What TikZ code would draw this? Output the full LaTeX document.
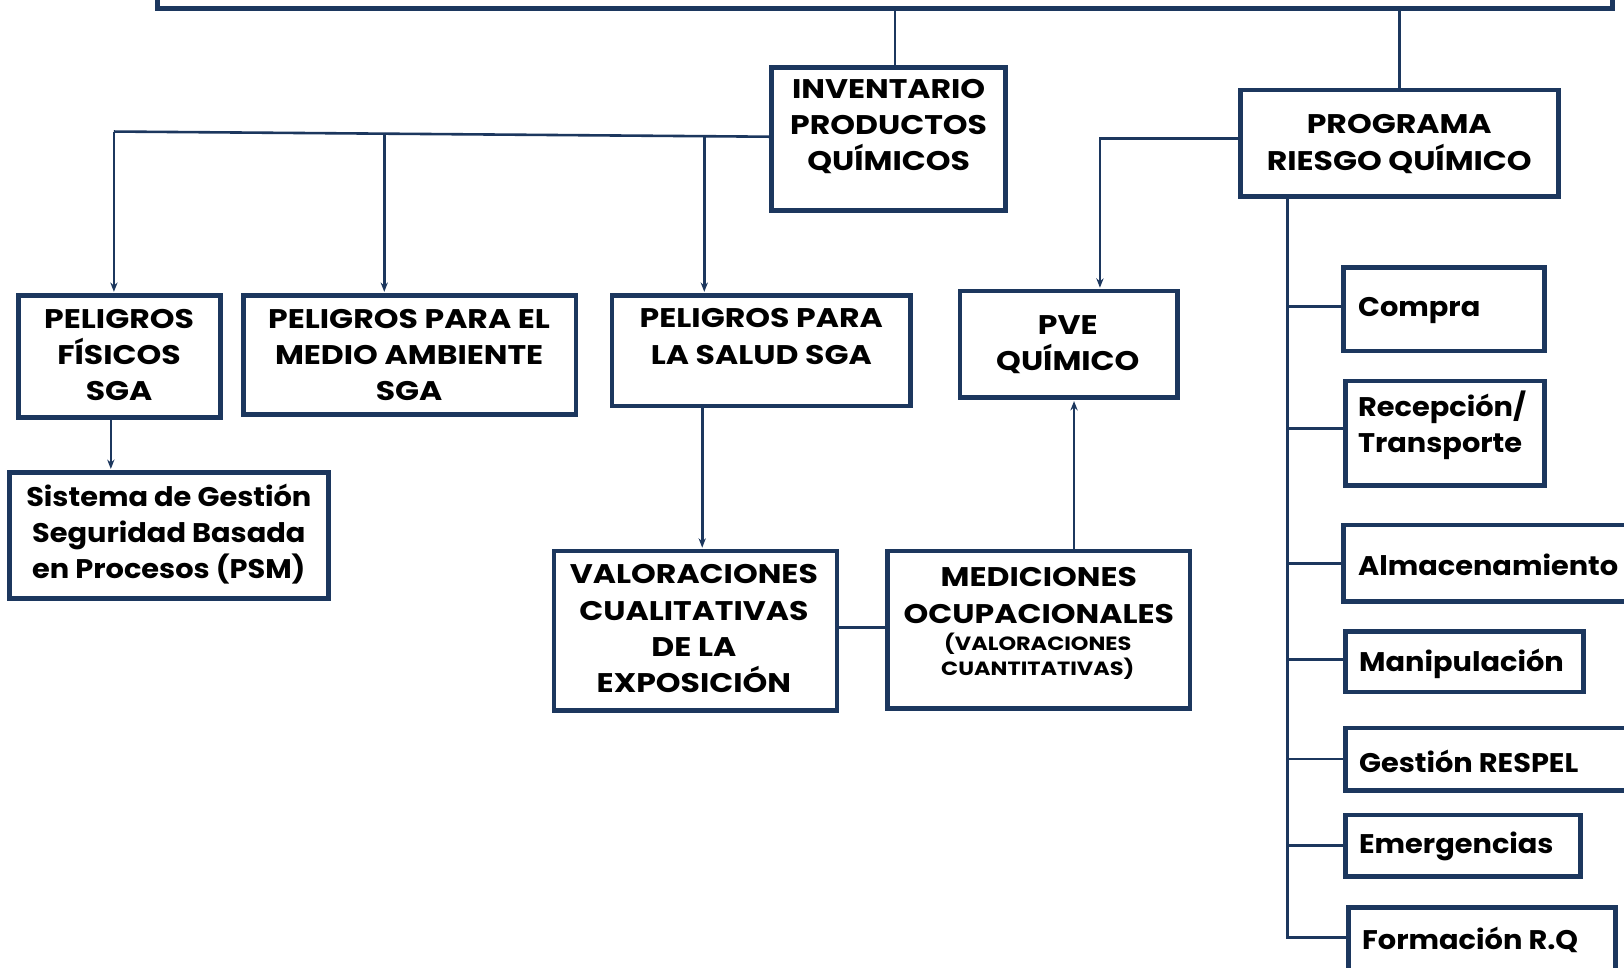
\documentclass[tikz,border=0pt]{standalone}
\usepackage{fontspec}
\setmainfont{Poppins}
\newfontfamily\capfont{Poppins}[FakeStretch=1.17]
\newfontfamily\lowfont{Poppins}[FakeStretch=1.07]
\usetikzlibrary{arrows.meta}
\definecolor{navy}{HTML}{1C375E}
\begin{document}
\begin{tikzpicture}[x=1pt,y=-1pt,
 box/.style={draw=navy, line width=4.5pt, fill=white, inner sep=0pt},
 txt/.style={align=center, font=\capfont\fontsize{26}{35}\selectfont\bfseries, text=black, inner sep=0pt, yshift=-2pt},
 mtxt/.style={align=center, font=\lowfont\fontsize{26}{35}\selectfont\bfseries, text=black, inner sep=0pt, yshift=-1.5pt},
 stxt/.style={align=center, font=\capfont\fontsize{18.5}{24}\selectfont\bfseries, text=black, inner sep=0pt, yshift=-1pt},
 ltxt/.style={anchor=west, align=left, font=\lowfont\fontsize{26}{35}\selectfont\bfseries, text=black, inner sep=0pt, yshift=-3pt},
 conn/.style={draw=navy, line width=2.5pt},
 arr/.style={conn, -{Stealth[length=9pt,width=7pt]}, shorten >=1pt}]
\fill[white] (0,0) rectangle (1568,934);
\useasboundingbox (0,0) rectangle (1568,934);
\clip (0,0) rectangle (1568,934);
% boxes
\node[box, minimum width=1405pt, minimum height=48pt] (top) at (854.5,-16) {};
\node[box, minimum width=226pt, minimum height=138pt] (inv) at (858,134) {};
\node[box, minimum width=307pt, minimum height=103pt] (prog) at (1351.5,138.5) {};
\node[box, minimum width=195pt, minimum height=118pt] (fis) at (115.5,344) {};
\node[box, minimum width=321pt, minimum height=115pt] (med) at (395.5,342.5) {};
\node[box, minimum width=288pt, minimum height=107pt] (sal) at (735,338.5) {};
\node[box, minimum width=308pt, minimum height=122pt] (psm) at (163,517) {};
\node[box, minimum width=273pt, minimum height=154pt] (val) at (671.5,609) {};
\node[box, minimum width=292pt, minimum height=152pt] (mdc) at (1003,608) {};
\node[box, minimum width=210pt, minimum height=103pt] (pve) at (1032,332.5) {};
\node[box, minimum width=194pt, minimum height=81pt] (compra) at (1394,298.5) {};
\node[box, minimum width=192pt, minimum height=101pt] (recep) at (1395,418.5) {};
\node[box, minimum width=303pt, minimum height=74pt] (alm) at (1448.5,544) {};
\node[box, minimum width=230pt, minimum height=58pt] (mani) at (1414,639) {};
\node[box, minimum width=301pt, minimum height=60pt] (resp) at (1449.5,733) {};
\node[box, minimum width=227pt, minimum height=59pt] (emer) at (1412.5,816.5) {};
\node[box, minimum width=258pt, minimum height=84pt] (form) at (1431,918) {};
% texts
\node[txt] (inv-t) at (858,120) {INVENTARIO\\PRODUCTOS\\QUÍMICOS};
\node[txt] (prog-t) at (1351,137) {PROGRAMA\\RIESGO QUÍMICO};
\node[txt] (fis-t) at (115,341) {PELIGROS\\FÍSICOS\\SGA};
\node[txt] (med-t) at (395,341) {PELIGROS PARA EL\\MEDIO AMBIENTE\\SGA};
\node[txt] (sal-t) at (735,323) {PELIGROS PARA\\LA SALUD SGA};
\node[mtxt] (psm-t) at (163,514) {Sistema de Gestión\\Seguridad Basada\\en Procesos (PSM)};
\node[txt] (val-t) at (670,605) {VALORACIONES\\CUALITATIVAS\\DE LA\\EXPOSICIÓN};
\node[txt] (mdc-t) at (1003,573) {MEDICIONES\\OCUPACIONALES};
\node[stxt] (mdc-s) at (1002,633) {(VALORACIONES\\CUANTITATIVAS)};
\node[txt] (pve-t) at (1031,331) {PVE\\QUÍMICO};
\node[ltxt] (compra-t) at (1311,297) {Compra};
\node[ltxt] (recep-t) at (1311,407.5) {Recepción/\\Transporte};
\node[ltxt] (alm-t) at (1311,542) {Almacenamiento};
\node[ltxt] (mani-t) at (1312,638) {Manipulación};
\node[ltxt] (resp-t) at (1312,732) {Gestión RESPEL};
\node[ltxt] (emer-t) at (1312,814) {Emergencias};
\node[ltxt] (form-t) at (1315,904) {Formación R.Q};
% connectors
\draw[conn] ([xshift=6pt]inv.north) -- ([xshift=6pt]inv.north |- top.south);
\draw[conn] (prog.north) -- (prog.north |- top.south);
\coordinate (hA) at (110,127);
\coordinate (hB) at (371,128);
\coordinate (hC) at (680,130.5);
\draw[conn] ([yshift=2pt]inv.west) -- (hA);
\draw[arr] (hA) -- (hA |- fis.north);
\draw[arr] (hB) -- (hB |- med.north);
\draw[arr] (hC) -- (hC |- sal.north);
\draw[arr] ([xshift=-8.5pt]fis.south) -- ([xshift=-8.5pt]fis.south |- psm.north);
\draw[arr] ([xshift=-57pt]sal.south) -- ([xshift=-57pt]sal.south |- val.north);
\draw[conn] ([yshift=3pt]val.east) -- ([yshift=2pt]mdc.west);
\draw[arr] ([xshift=34pt]mdc.north) -- ([xshift=34pt]mdc.north |- pve.south);
\coordinate (hP) at (1062,134);
\draw[arr] ([yshift=4.5pt]prog.west) -- (hP) -- (hP |- pve.north);
\coordinate (sp) at (1243,905);
\draw[conn] (prog.south -| sp) -- (sp) -- (sp -| form.west);
\draw[conn] ([yshift=2.5pt]compra.west -| sp) -- ([yshift=2.5pt]compra.west);
\draw[conn] ([yshift=4.5pt]recep.west -| sp) -- ([yshift=4.5pt]recep.west);
\draw[conn] (alm.west -| sp) -- (alm.west);
\draw[conn] ([yshift=2pt]mani.west -| sp) -- ([yshift=2pt]mani.west);
\draw[conn] (resp.west -| sp) -- (resp.west);
\draw[conn] (emer.west -| sp) -- (emer.west);
\end{tikzpicture}
\end{document}
